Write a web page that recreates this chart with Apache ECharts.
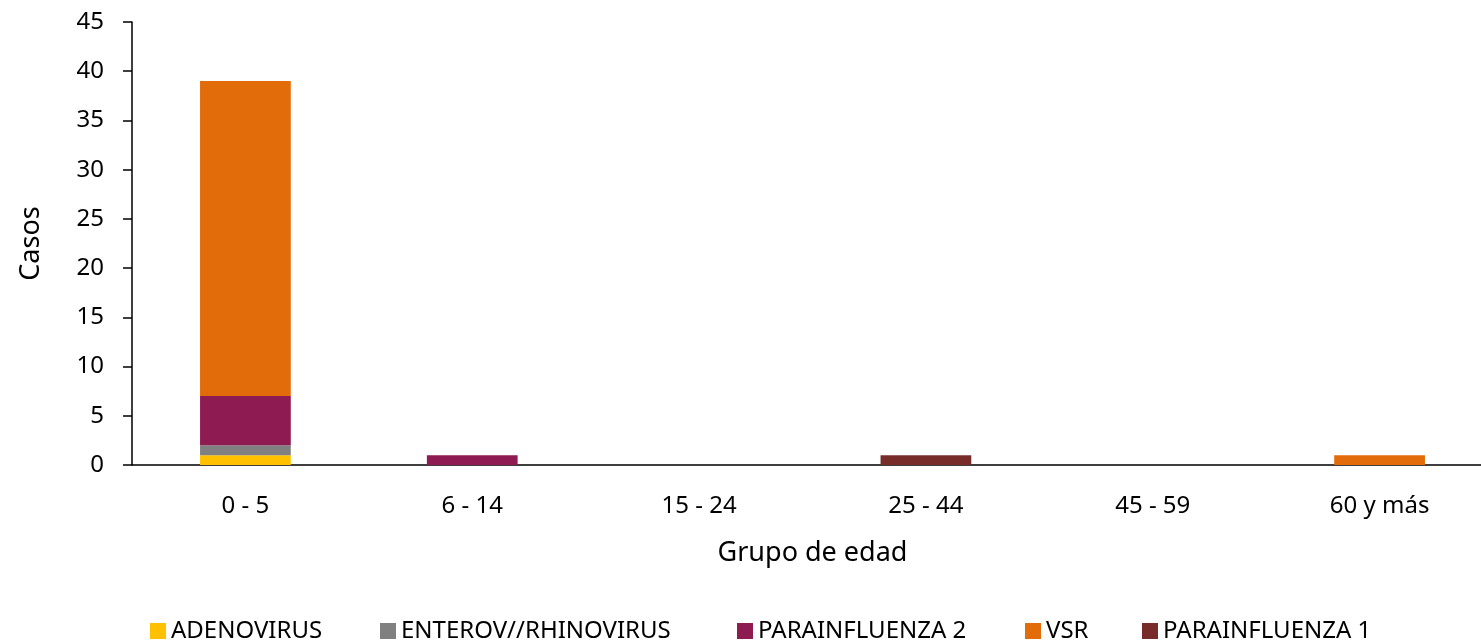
<!DOCTYPE html>
<html>
<head>
<meta charset="utf-8">
<script src="https://cdn.jsdelivr.net/npm/echarts@6/dist/echarts.min.js"></script>
<style>
html, body { margin: 0; padding: 0; background: #fff; overflow: hidden; }
#wrap { width: 1481px; height: 640px; overflow: hidden; }
#chart { width: 1493px; height: 640px; }
</style>
</head>
<body>
<div id="wrap"><div id="chart"></div></div>
<script>
var categories = ["0 - 5", "6 - 14", "15 - 24", "25 - 44", "45 - 59", "60 y más"];
var adenovirus = [1, 0, 0, 0, 0, 0];
var enterovirus = [1, 0, 0, 0, 0, 0];
var parainfluenza2 = [5, 1, 0, 0, 0, 0];
var vsr = [32, 0, 0, 0, 0, 1];
var parainfluenza1 = [0, 0, 0, 1, 0, 0];

var seriesNames = ["ADENOVIRUS", "ENTEROV//RHINOVIRUS", "PARAINFLUENZA 2", "VSR", "PARAINFLUENZA 1"];
var seriesColors = ["#FFC000", "#808080", "#8E1B51", "#E36C0A", "#772C2A"];
var legendLeft = [145, 375, 732, 1020, 1137];

var font = "Noto Sans";
var myChart = echarts.init(document.getElementById("chart"));

function serie(i, data) {
  return {
    name: seriesNames[i],
    type: "bar",
    stack: "total",
    barWidth: "40%",
    data: data,
    itemStyle: { color: seriesColors[i] }
  };
}

// one legend per entry so each sits where the original puts it
var legends = seriesNames.map(function (n, i) {
  return {
    top: 614,
    left: legendLeft[i],
    itemWidth: 16,
    itemHeight: 16,
    icon: "rect",
    textStyle: { fontFamily: font, fontSize: 24, color: "#000" },
    data: [n]
  };
});

myChart.setOption({
  animation: false,
  textStyle: { fontFamily: font },
  // the original plot runs a little past the right edge of the picture
  grid: { left: 132, right: 0, top: 22, bottom: 175, containLabel: false },
  legend: legends,
  xAxis: {
    type: "category",
    data: categories,
    name: "Grupo de edad",
    nameLocation: "middle",
    nameGap: 75,
    nameTextStyle: { fontFamily: font, fontSize: 27, color: "#000" },
    axisLine: { lineStyle: { color: "#000", width: 1.5 } },
    axisTick: { alignWithLabel: true, length: 8, lineStyle: { color: "#000", width: 1.5 } },
    axisLabel: { fontFamily: font, fontSize: 24, color: "#000", margin: 29 }
  },
  yAxis: {
    type: "value",
    min: 0,
    max: 45,
    interval: 5,
    name: "Casos",
    nameLocation: "middle",
    nameGap: 87,
    nameTextStyle: { fontFamily: font, fontSize: 27, color: "#000" },
    axisLine: { show: true, lineStyle: { color: "#000", width: 1.5 } },
    axisTick: { show: true, length: 9, lineStyle: { color: "#000", width: 1.5 } },
    axisLabel: { fontFamily: font, fontSize: 24, color: "#000", margin: 28 },
    splitLine: { show: false }
  },
  series: [
    serie(0, adenovirus),
    serie(1, enterovirus),
    serie(2, parainfluenza2),
    serie(3, vsr),
    serie(4, parainfluenza1)
  ]
});
</script>
</body>
</html>
